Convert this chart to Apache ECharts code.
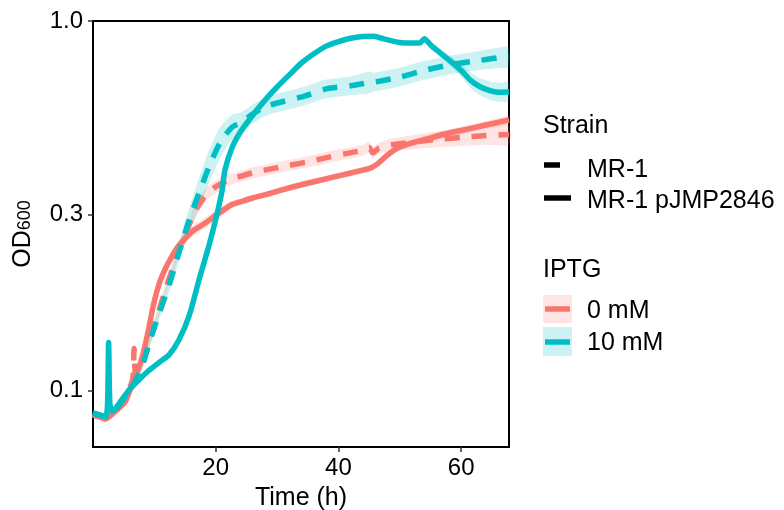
<!DOCTYPE html>
<html><head><meta charset="utf-8">
<script src="https://cdn.jsdelivr.net/npm/echarts@6/dist/echarts.min.js"></script>
<style>html,body{margin:0;padding:0;background:#fff}#c{width:784px;height:510px}</style>
</head><body><div id="c"></div>
<script>
// ---- tick labels ----
const tickX = [20, 40, 60];
const tickY = [0.1, 0.3, 1.0];

// ---- legend categories ----
const strainNames = ['MR-1', 'MR-1 pJMP2846'];
const iptgNames = ['0 mM', '10 mM'];

// ---- MR-1 pJMP2846, 10 mM (solid cyan) ----
const tC10S = [0, 1, 2, 2.35, 2.55, 2.75, 3.2, 4, 5, 6, 7.5, 9, 11, 12.4, 14, 15.7, 17.3, 18.9, 20.2, 21, 21.5, 22.7, 24, 26, 28, 30, 32, 34, 36, 38, 40, 42, 44, 45.7, 47, 50, 52, 53.3, 54, 55, 56, 58, 60, 61.5, 63, 64.7, 66, 67.8];
const vC10S = [0.087, 0.086, 0.085, 0.090, 0.135, 0.092, 0.088, 0.091, 0.096, 0.101, 0.107, 0.113, 0.120, 0.125, 0.137, 0.160, 0.200, 0.247, 0.300, 0.345, 0.395, 0.456, 0.500, 0.555, 0.610, 0.663, 0.715, 0.770, 0.815, 0.855, 0.880, 0.898, 0.908, 0.910, 0.898, 0.875, 0.872, 0.872, 0.895, 0.862, 0.835, 0.785, 0.735, 0.692, 0.665, 0.648, 0.642, 0.643];
const sC10S = [1.01, 1.01, 1.01, 1.01, 1.08, 1.01, 1.01, 1.01, 1.01, 1.01, 1.01, 1.01, 1.01, 1.01, 1.01, 1.01, 1.01, 1.01, 1.01, 1.01, 1.01, 1.01, 1.01, 1.01, 1.01, 1.01, 1.01, 1.01, 1.01, 1.01, 1.01, 1.01, 1.01, 1.01, 1.01, 1.01, 1.01, 1.01, 1.01, 1.02, 1.02, 1.03, 1.04, 1.05, 1.055, 1.06, 1.06, 1.06];

// ---- MR-1, 10 mM (dashed cyan) ----
const tC10D = [0, 1, 2, 3, 4, 5, 6, 7, 8, 9.3, 10.8, 12.4, 14, 15.7, 17.3, 18.9, 20.7, 22.7, 24, 26, 28, 30, 34, 38, 42, 44.7, 46, 50, 54, 58, 62, 66, 67.8];
const vC10D = [0.087, 0.086, 0.085, 0.087, 0.090, 0.095, 0.100, 0.107, 0.116, 0.137, 0.162, 0.193, 0.236, 0.290, 0.343, 0.403, 0.468, 0.517, 0.530, 0.560, 0.585, 0.600, 0.623, 0.655, 0.668, 0.680, 0.684, 0.705, 0.735, 0.760, 0.778, 0.795, 0.799];
const sC10D = [1.02, 1.02, 1.02, 1.02, 1.02, 1.02, 1.02, 1.03, 1.03, 1.03, 1.04, 1.05, 1.06, 1.08, 1.10, 1.11, 1.10, 1.08, 1.065, 1.06, 1.06, 1.06, 1.06, 1.06, 1.06, 1.07, 1.06, 1.06, 1.06, 1.06, 1.06, 1.065, 1.065];

// ---- MR-1 pJMP2846, 0 mM (solid red) ----
const tR0S = [0, 1, 2, 3, 4, 5.2, 6, 7, 8, 9, 9.9, 10.8, 11.8, 13, 14, 16.1, 18.3, 20, 21.5, 22.5, 24, 26, 28.4, 31, 33.8, 36.5, 39.1, 42, 45.2, 46.3, 48, 50, 52, 54.5, 57, 61, 64, 67.8];
const vR0S = [0.086, 0.085, 0.084, 0.086, 0.089, 0.093, 0.100, 0.110, 0.123, 0.145, 0.172, 0.195, 0.214, 0.233, 0.247, 0.269, 0.284, 0.298, 0.310, 0.318, 0.324, 0.332, 0.340, 0.350, 0.360, 0.369, 0.378, 0.388, 0.400, 0.410, 0.434, 0.456, 0.468, 0.480, 0.493, 0.510, 0.523, 0.540];
const sR0S = [1.02, 1.02, 1.02, 1.02, 1.02, 1.02, 1.02, 1.03, 1.03, 1.03, 1.03, 1.03, 1.035, 1.035, 1.035, 1.035, 1.035, 1.035, 1.03, 1.025, 1.02, 1.02, 1.02, 1.02, 1.02, 1.02, 1.02, 1.02, 1.02, 1.02, 1.02, 1.02, 1.02, 1.025, 1.025, 1.025, 1.025, 1.025];

// ---- MR-1, 0 mM (dashed red) ----
const tR0D = [0, 1, 2, 3, 4, 5, 6, 6.5, 6.7, 7, 8, 9, 10, 11, 12, 13, 14, 15, 16, 17, 18, 19, 20, 21, 22.5, 25.9, 29, 32, 35, 38.6, 41, 44, 45, 45.6, 46.5, 48.5, 52, 56, 60, 64, 67.8];
const vR0D = [0.086, 0.085, 0.084, 0.086, 0.089, 0.094, 0.102, 0.108, 0.130, 0.110, 0.118, 0.132, 0.150, 0.170, 0.192, 0.215, 0.240, 0.265, 0.290, 0.313, 0.332, 0.346, 0.356, 0.364, 0.373, 0.388, 0.398, 0.407, 0.416, 0.429, 0.437, 0.447, 0.455, 0.440, 0.452, 0.462, 0.470, 0.478, 0.484, 0.490, 0.493];
const sR0D = [1.02, 1.02, 1.02, 1.02, 1.02, 1.03, 1.03, 1.03, 1.03, 1.03, 1.03, 1.04, 1.04, 1.04, 1.04, 1.04, 1.04, 1.045, 1.045, 1.045, 1.04, 1.04, 1.04, 1.04, 1.035, 1.035, 1.035, 1.035, 1.035, 1.035, 1.035, 1.035, 1.035, 1.035, 1.035, 1.04, 1.045, 1.05, 1.055, 1.06, 1.065];

const RED = '#F8766D', CYAN = '#00BFC4';
const RED_F = 'rgba(248,118,109,0.2)', CYAN_F = 'rgba(0,191,196,0.2)';
const FONT = 'Liberation Sans, Arial, sans-serif';
const DASH = [15, 12];

function pairs(t, v) { return t.map((x, i) => [x, v[i]]); }

function ribbon(t, v, s, fill) {
  return {
    type: 'custom', silent: true, z: 1,
    data: [[t[0], v[0]]],
    renderItem: function (params, api) {
      const up = [], lo = [];
      for (let i = 0; i < t.length; i++) {
        up.push(api.coord([t[i], v[i] * s[i]]));
        lo.push(api.coord([t[i], v[i] / s[i]]));
      }
      return { type: 'polygon', shape: { points: up.concat(lo.reverse()), smooth: 0.2 }, style: { fill: fill } };
    }
  };
}

function line(t, v, color, dashed, z) {
  return {
    type: 'line', data: pairs(t, v), showSymbol: false, symbol: 'none', z: z,
    smooth: 0.25, silent: true,
    lineStyle: { color: color, width: 5.5, type: dashed ? DASH : 'solid', cap: 'butt', join: 'round' }
  };
}

const chart = echarts.init(document.getElementById('c'), null, { renderer: 'canvas' });

const legendX = 543, textX = 587;
const option = {
  animation: false,
  backgroundColor: '#fff',
  grid: { left: 93, top: 21, width: 416, height: 426, show: true, borderColor: '#000', borderWidth: 2,
          backgroundColor: 'transparent', containLabel: false, outerBoundsMode: 'none' },
  xAxis: {
    type: 'value', min: 0, max: 67.8,
    name: 'Time (h)', nameLocation: 'middle', nameGap: 39,
    nameTextStyle: { fontFamily: FONT, fontSize: 25, color: '#000' },
    axisLine: { show: false },
    axisTick: { show: true, length: 5, customValues: tickX, lineStyle: { color: '#333', width: 1.5 } },
    axisLabel: { customValues: tickX, margin: 9, fontFamily: FONT, fontSize: 24, color: '#000' },
    splitLine: { show: false }
  },
  yAxis: {
    type: 'log', logBase: 10, min: 0.0704, max: 1.0,
    name: '{a|OD}{b|600}', nameLocation: 'middle', nameGap: 56, nameRotate: 90,
    nameTextStyle: { fontFamily: FONT, color: '#000',
      rich: { a: { fontFamily: FONT, fontSize: 25, color: '#000', lineHeight: 28 },
              b: { fontFamily: FONT, fontSize: 18, color: '#000', lineHeight: 18, verticalAlign: 'bottom', padding: [0, 0, 3, 0] } } },
    axisLine: { show: false },
    axisTick: { show: true, length: 5, customValues: tickY, lineStyle: { color: '#333', width: 1.5 } },
    axisLabel: { customValues: tickY, margin: 10, fontFamily: FONT, fontSize: 24, color: '#000', formatter: v => Number(v).toFixed(1) },
    splitLine: { show: false }, minorTick: { show: false }
  },
  series: [
    ribbon(tR0D, vR0D, sR0D, RED_F),
    ribbon(tR0S, vR0S, sR0S, RED_F),
    ribbon(tC10D, vC10D, sC10D, CYAN_F),
    ribbon(tC10S, vC10S, sC10S, CYAN_F),
    line(tR0D, vR0D, RED, true, 3),
    line(tR0S, vR0S, RED, false, 4),
    line(tC10D, vC10D, CYAN, true, 5),
    line(tC10S, vC10S, CYAN, false, 6)
  ],
  graphic: [
    { type: 'text', left: legendX, top: 114, style: { text: 'Strain', font: '25px ' + FONT, fill: '#000' } },
    { type: 'line', shape: { x1: 544, y1: 165, x2: 560, y2: 165 }, style: { stroke: '#000', lineWidth: 5.5 } },
    { type: 'text', left: textX, top: 158, style: { text: strainNames[0], font: '25px ' + FONT, fill: '#000' } },
    { type: 'line', shape: { x1: 544, y1: 198, x2: 571, y2: 198 }, style: { stroke: '#000', lineWidth: 5.5 } },
    { type: 'text', left: textX, top: 189, style: { text: strainNames[1], font: '25px ' + FONT, fill: '#000' } },
    { type: 'text', left: legendX, top: 258, style: { text: 'IPTG', font: '25px ' + FONT, fill: '#000' } },
    { type: 'rect', shape: { x: 543, y: 295, width: 29, height: 28 }, style: { fill: RED_F } },
    { type: 'line', shape: { x1: 545, y1: 309, x2: 570, y2: 309 }, style: { stroke: RED, lineWidth: 5.5 } },
    { type: 'text', left: textX, top: 299, style: { text: iptgNames[0], font: '25px ' + FONT, fill: '#000' } },
    { type: 'rect', shape: { x: 543, y: 327, width: 29, height: 29 }, style: { fill: CYAN_F } },
    { type: 'line', shape: { x1: 545, y1: 342, x2: 570, y2: 342 }, style: { stroke: CYAN, lineWidth: 5.5 } },
    { type: 'text', left: textX, top: 331, style: { text: iptgNames[1], font: '25px ' + FONT, fill: '#000' } }
  ]
};
chart.setOption(option);
</script>
</body></html>
